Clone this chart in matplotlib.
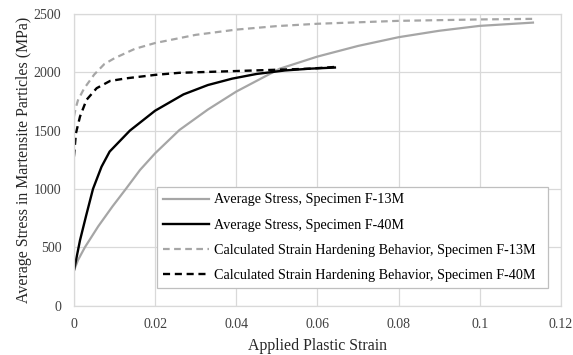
import matplotlib.pyplot as plt

# ====== DATA ======
# Average stress, specimen F-13M
x_avg13 = [0, 0.001, 0.0027, 0.006, 0.0095, 0.0128, 0.0163, 0.02, 0.026, 0.033, 0.04, 0.0507, 0.06, 0.07, 0.08, 0.09, 0.1, 0.1131]
y_avg13 = [300, 390, 500, 680, 850, 1000, 1163, 1305, 1505, 1680, 1834, 2030, 2134, 2225, 2300, 2355, 2397, 2425]

# Average stress, specimen F-40M
x_avg40 = [0, 0.0015, 0.003, 0.0047, 0.0068, 0.0088, 0.0138, 0.02, 0.027, 0.033, 0.039, 0.045, 0.052, 0.058, 0.0643]
y_avg40 = [300, 560, 770, 1000, 1190, 1320, 1500, 1670, 1810, 1890, 1945, 1985, 2015, 2030, 2040]

# Calculated strain hardening, F-13M
x_calc13 = [0, 0.0005, 0.001, 0.0025, 0.005, 0.0075, 0.01, 0.015, 0.02, 0.03, 0.04, 0.05, 0.06, 0.08, 0.1, 0.1131]
y_calc13 = [1620, 1700, 1760, 1860, 1980, 2070, 2120, 2200, 2250, 2320, 2365, 2395, 2415, 2440, 2452, 2457]

# Calculated strain hardening, F-40M
x_calc40 = [0, 0.0005, 0.0015, 0.0031, 0.0056, 0.0089, 0.013, 0.02, 0.026, 0.04, 0.058, 0.0643]
y_calc40 = [1277, 1477, 1620, 1763, 1863, 1925, 1948, 1977, 1995, 2010, 2030, 2045]

labels = ["Average Stress, Specimen F-13M",
          "Average Stress, Specimen F-40M",
          "Calculated Strain Hardening Behavior, Specimen F-13M",
          "Calculated Strain Hardening Behavior, Specimen F-40M"]

plt.rcParams['font.family'] = ['Liberation Serif', 'DejaVu Serif']

fig = plt.figure(figsize=(5.73, 3.55), dpi=100)
ax = fig.add_axes([0.129, 0.139, 0.850, 0.822])

gray = '#a6a6a6'
ax.plot(x_avg13, y_avg13, color=gray, lw=1.6, label=labels[0])
ax.plot(x_avg40, y_avg40, color='black', lw=1.7, label=labels[1])
ax.plot(x_calc13, y_calc13, color=gray, lw=1.6, ls=(0, (3, 2)), label=labels[2])
ax.plot(x_calc40, y_calc40, color='black', lw=1.7, ls=(0, (3, 2)), label=labels[3])

ax.set_xlim(0, 0.12)
ax.set_ylim(0, 2500)
ax.set_xticks([0, 0.02, 0.04, 0.06, 0.08, 0.1, 0.12])
ax.set_xticklabels(["0", "0.02", "0.04", "0.06", "0.08", "0.1", "0.12"])
ax.set_yticks([0, 500, 1000, 1500, 2000, 2500])
ax.grid(True, color='#d9d9d9', lw=0.9)
ax.set_axisbelow(True)
for s in ax.spines.values():
    s.set_color('#d9d9d9')
    s.set_linewidth(0.9)
ax.tick_params(length=0, labelsize=10, pad=9, colors='#404040')

ax.set_xlabel("Applied Plastic Strain", fontsize=11.4, color='#262626', va='top')
ax.set_ylabel("Average Stress in Martensite Particles (MPa)", fontsize=11.4, color='#262626')
ax.xaxis.set_label_coords(0.5, -0.111)
ax.yaxis.set_label_coords(-0.087, 0.5)

leg = ax.legend(loc='lower left', bbox_to_anchor=(0.1704, 0.0606, 0.803, 0), mode='expand',
                borderaxespad=0, fontsize=10.2, fancybox=False, framealpha=1,
                edgecolor='#bfbfbf', handlelength=3.25, handletextpad=0.3,
                borderpad=0.45, labelspacing=0.85)
leg.get_frame().set_linewidth(0.9)

plt.savefig("out.png", dpi=100)
